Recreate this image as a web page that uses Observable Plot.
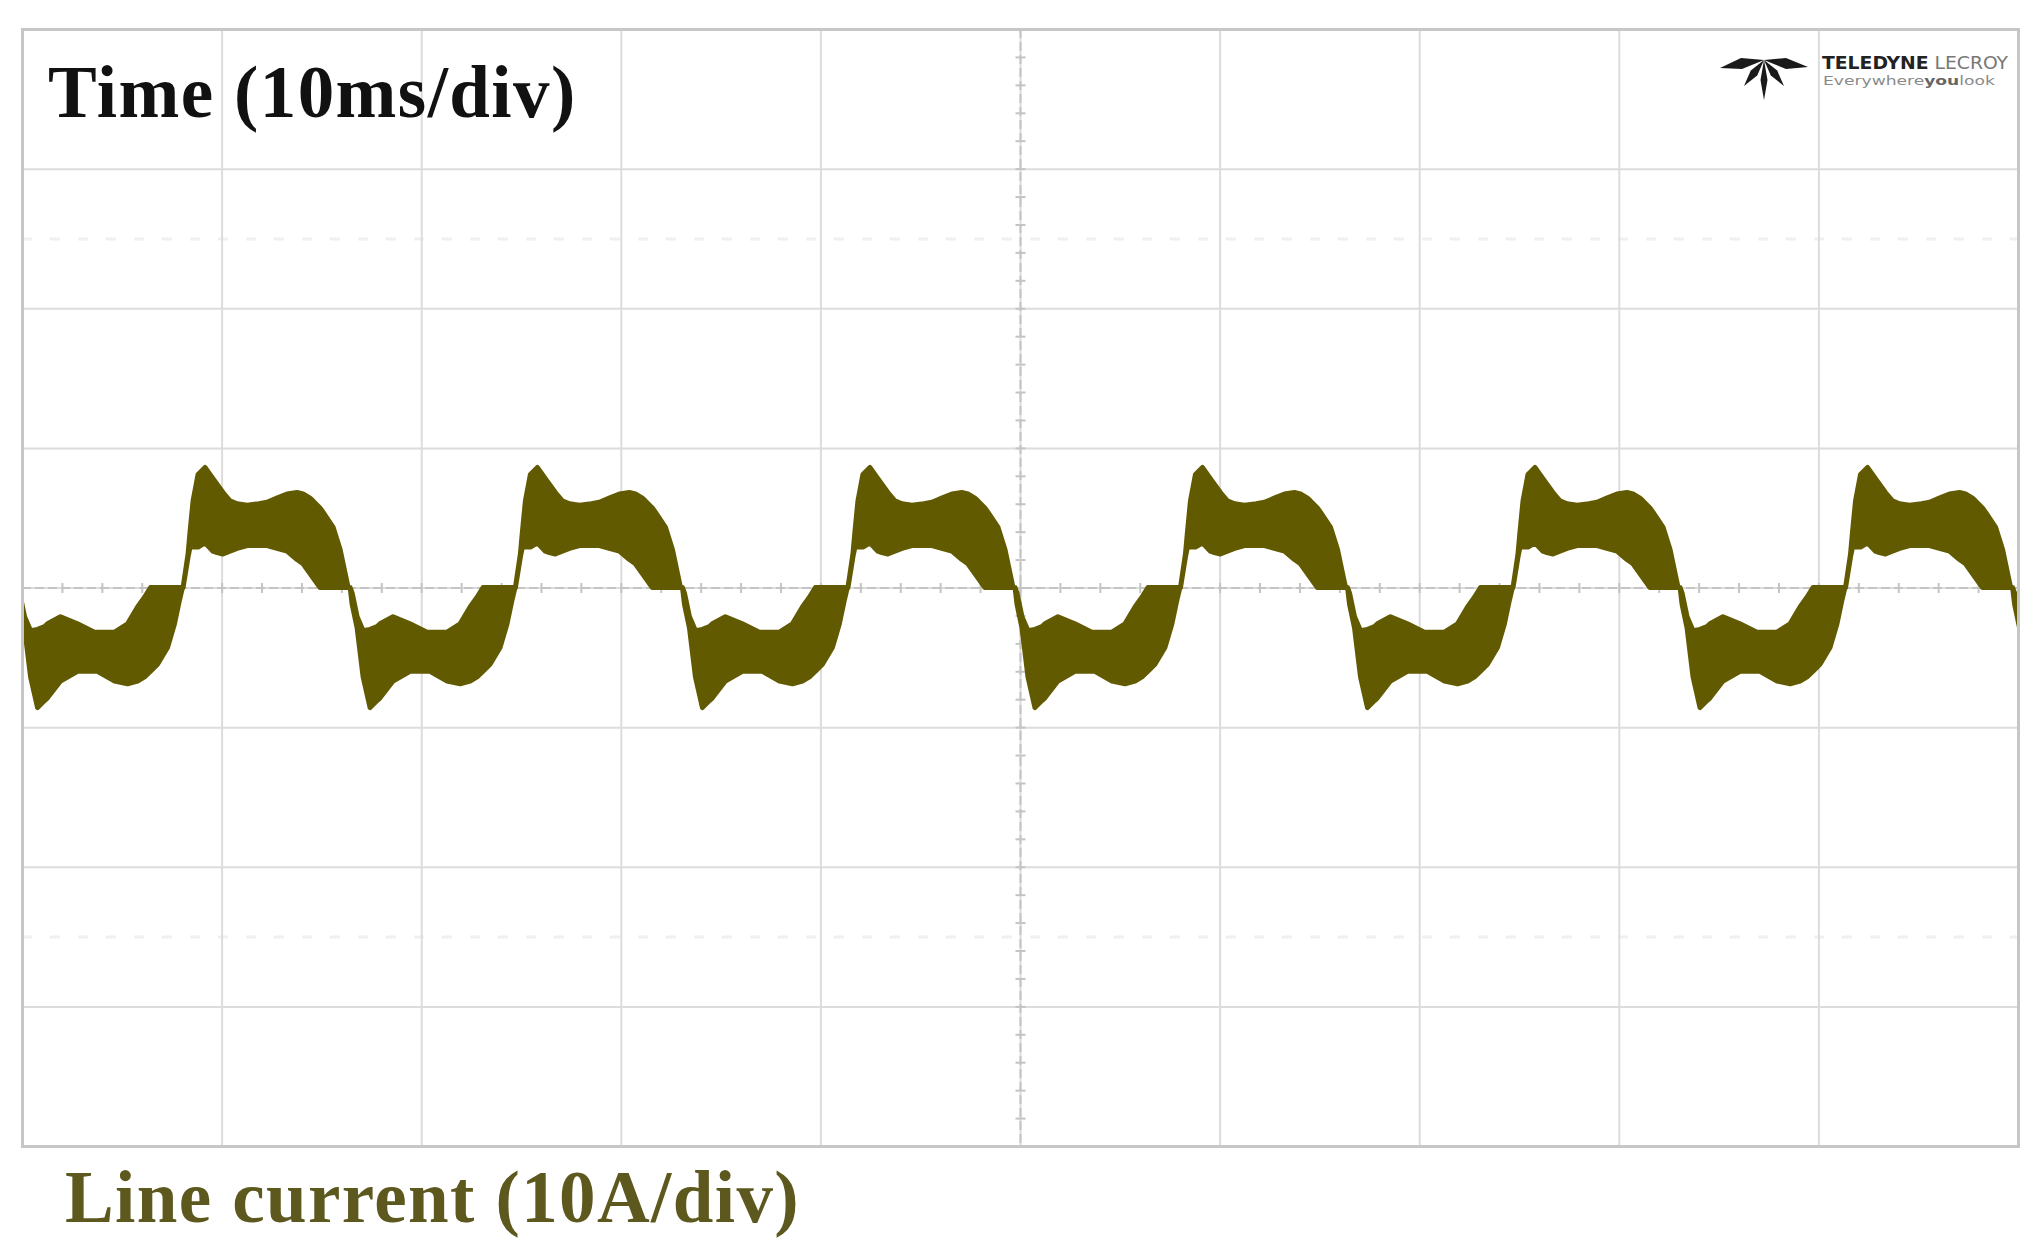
<!DOCTYPE html>
<html>
<head>
<meta charset="utf-8">
<script src="https://cdn.jsdelivr.net/npm/d3@7"></script>
<script src="https://cdn.jsdelivr.net/npm/@observablehq/plot@0.6"></script>
<style>
  html, body { margin: 0; padding: 0; background: #ffffff; }
  #wrap { position: relative; width: 2040px; height: 1259px; background: #ffffff; overflow: hidden; }
  #chart { position: absolute; left: 0; top: 0; }
  .lbl { position: absolute; font-family: "Liberation Serif", "Times New Roman", serif; font-weight: bold;
         font-size: 73px; line-height: 73px; letter-spacing: 1.4px; white-space: nowrap; }
  #title { left: 48px; top: 56px; color: #111111; }
  #caption { left: 65px; top: 1161px; color: #5d581e; }
  #logo { position: absolute; left: 1720px; top: 50px; width: 300px; height: 56px; }
</style>
</head>
<body>
<div id="wrap">
  <div id="chart"></div>
  <div id="title" class="lbl">Time (10ms/div)</div>
  <div id="caption" class="lbl">Line current (10A/div)</div>
  <svg id="logo" width="300" height="56" viewBox="0 0 300 56">
    <g fill="#1a1a1a">
      <polygon points="44,10 22,19 0,18 21,8"/>
      <polygon points="44,10 66,8 88,17 66,19"/>
      <polygon points="44,10 37.2,25.4 24,36 30.8,20.6"/>
      <polygon points="44,10 57.2,20.6 64,36 50.8,25.4"/>
      <polygon points="44,10 47.5,30 44,50 40.5,30"/>
    </g>
    <text x="102" y="19" font-family="DejaVu Sans Condensed, DejaVu Sans, sans-serif" font-size="17" font-weight="bold" textLength="186" lengthAdjust="spacingAndGlyphs"><tspan fill="#222222">TELEDYNE</tspan><tspan fill="#777777" font-weight="normal"> LECROY</tspan></text>
    <text x="103" y="35" font-family="DejaVu Sans Condensed, DejaVu Sans, sans-serif" font-size="12" fill="#8a8a8a" textLength="172" lengthAdjust="spacingAndGlyphs">Everywhere<tspan font-weight="bold" fill="#666666">you</tspan>look</text>
  </svg>
</div>
<script>
// ---- Scope settings ----
const timeDomain = [0, 100];        // ms, 10 ms/div, 10 divisions
const currentDomain = [-40, 40];    // A, 10 A/div, 8 divisions
const gridX = [0, 10, 20, 30, 40, 50, 60, 70, 80, 90, 100];
const gridY = [-40, -30, -20, -10, 0, 10, 20, 30, 40];
const ghostY = [-25, 25];

// ---- Waveform: rising zero-crossing time of each 60 Hz cycle (ms) ----
const cycleStart = [-8.59, 8.07, 24.72, 41.38, 58.04, 74.70, 91.36];

// Time within a cycle (ms, from rising zero crossing)
const relTime = [0, 0.25, 0.35, 0.50, 0.75, 1.10, 1.50, 1.70, 2.00, 2.35,
  2.71, 3.21, 3.80, 4.21, 4.70, 5.21, 5.71, 6.01, 6.36, 6.51,
  6.86, 7.01, 7.52, 7.87, 8.12, 8.27, 8.37, 8.47, 8.72, 9.02,
  9.37, 9.72, 9.87, 10.52, 11.37, 12.22, 12.37, 13.23, 13.88, 14.38,
  14.73, 15.03, 15.38, 15.88, 16.23, 16.48, 16.63];
// Upper envelope of the ripple band (A)
const upperEnv = [0, 2.4, 4.0, 6.2, 8.1, 8.6, 7.8, 7.4, 6.8, 6.2,
  6.0, 5.9, 6.0, 6.1, 6.4, 6.7, 6.8, 6.7, 6.4, 6.2,
  5.7, 5.4, 4.3, 2.7, 1.0, 0, 0, -0.4, -2.1, -3.1,
  -3.0, -2.8, -2.6, -2.1, -2.6, -3.2, -3.2, -3.2, -2.6, -1.4,
  -0.7, 0, 0, 0, 0, 0, 0];
// Lower envelope of the ripple band (A)
const lowerEnv = [0, 2.2, 2.9, 2.9, 2.9, 3.2, 2.6, 2.5, 2.4, 2.6,
  2.8, 3.0, 3.0, 3.0, 2.8, 2.6, 2.0, 1.7, 1.0, 0.7,
  0, 0, 0, 0, 0, 0, 0, -1.2, -2.9, -6.4,
  -8.6, -8.1, -7.9, -6.7, -6.0, -6.0, -6.0, -6.7, -6.9, -6.7,
  -6.4, -6.0, -5.5, -4.3, -2.6, -0.9, 0];

const waveColor = "#625a00";

// Build the table for the area mark
const rows = [];
cycleStart.forEach((t0, c) => {
  relTime.forEach((dt, i) => {
    rows.push({cycle: c, t: t0 + dt, hi: upperEnv[i], lo: lowerEnv[i]});
  });
});

// minor ticks on the centre graticule (5 per division)
const minorX = d3.range(0, 100.001, 2);
const minorY = d3.range(-40, 40.001, 2);

const hTick = {draw(ctx, size) { const l = Math.sqrt(size / Math.PI); ctx.moveTo(-l, 0); ctx.lineTo(l, 0); }};
const vTick = {draw(ctx, size) { const l = Math.sqrt(size / Math.PI); ctx.moveTo(0, -l); ctx.lineTo(0, l); }};

const chart = Plot.plot({
  width: 2040,
  height: 1150,
  marginLeft: 22,
  marginRight: 22,
  marginTop: 29,
  marginBottom: 4,
  x: {domain: timeDomain, axis: null},
  y: {domain: currentDomain, axis: null},
  style: {background: "transparent", overflow: "visible"},
  marks: [
    Plot.ruleY(ghostY, {stroke: "#f0f0f0", strokeWidth: 3, strokeDasharray: "10,18"}),
    Plot.ruleX(gridX, {stroke: "#dcdcdc", strokeWidth: 2}),
    Plot.ruleY(gridY, {stroke: "#dcdcdc", strokeWidth: 2}),
    Plot.ruleX([50], {stroke: "#c4c4c4", strokeWidth: 2, strokeDasharray: "9,4"}),
    Plot.ruleY([0], {stroke: "#c4c4c4", strokeWidth: 2, strokeDasharray: "9,4"}),
    Plot.dot(minorY, {x: () => 50, y: d => d, symbol: hTick, r: 5, fill: "none", stroke: "#c4c4c4", strokeWidth: 2}),
    Plot.dot(minorX, {x: d => d, y: () => 0, symbol: vTick, r: 5, fill: "none", stroke: "#c4c4c4", strokeWidth: 2}),
    Plot.areaY(rows, {x: "t", y1: "lo", y2: "hi", z: "cycle", fill: waveColor, stroke: waveColor, strokeWidth: 5, strokeLinejoin: "round", clip: true}),
    Plot.frame({stroke: "#c6c6c6", strokeWidth: 3})
  ]
});
document.getElementById("chart").appendChild(chart);
</script>
</body>
</html>
